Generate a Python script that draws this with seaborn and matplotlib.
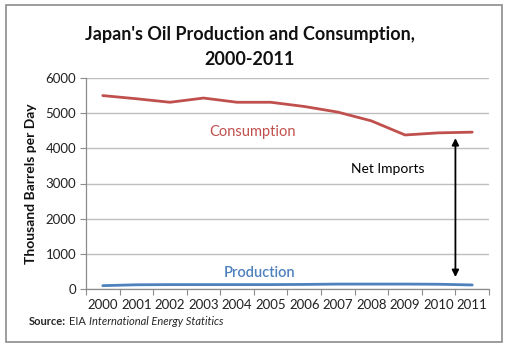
import matplotlib
matplotlib.use("Agg")
import matplotlib.pyplot as plt
import seaborn as sns
import pandas as pd
from matplotlib.patches import Rectangle
from matplotlib.ticker import FixedLocator

years = ["2000", "2001", "2002", "2003", "2004", "2005",
         "2006", "2007", "2008", "2009", "2010", "2011"]
consumption = [5500, 5410, 5310, 5430, 5310, 5310, 5190, 5030, 4780, 4380, 4440, 4460]
production = [95, 120, 125, 125, 125, 125, 130, 140, 140, 140, 135, 115]

title = "Japan's Oil Production and Consumption,\n2000-2011"
ylabel = "Thousand Barrels per Day"
yticks = [0, 1000, 2000, 3000, 4000, 5000, 6000]

RED = "#C0504D"
BLUE = "#4F81BD"
GREY = "#8C8C8C"

sns.set_theme(style="white")
plt.rcParams["font.family"] = ["Lato", "DejaVu Sans"]

df = pd.DataFrame({"year": years, "Consumption": consumption, "Production": production})

fig = plt.figure(figsize=(5.1, 3.5), dpi=100)
ax = fig.add_axes([86 / 510, 1 - 289 / 350, (489 - 86) / 510, (289 - 78) / 350])

sns.lineplot(data=df, x="year", y="Consumption", color=RED, lw=2.0, ax=ax, sort=False)
sns.lineplot(data=df, x="year", y="Production", color=BLUE, lw=2.0, ax=ax, sort=False)

ax.set_xlim(-0.5, len(years) - 0.5)
ax.set_ylim(0, 6000)
ax.set_yticks(yticks)
ax.set_yticklabels([str(v) for v in yticks], fontsize=9.5, color="#222222")
ax.set_xticks(range(len(years)))
ax.set_xticklabels(years, fontsize=9.5, color="#222222")
ax.xaxis.set_minor_locator(FixedLocator([i - 0.5 for i in range(len(years) + 1)]))
ax.tick_params(axis="x", which="major", length=0, pad=7)
ax.tick_params(axis="x", which="minor", length=4, color=GREY, width=0.8, direction="out", bottom=True)
ax.tick_params(axis="y", which="major", length=4, color=GREY, width=0.8, direction="out", left=True, pad=3)

ax.grid(axis="y", color="#BEBEBE", lw=1.0)
ax.set_axisbelow(True)
for s in ["top", "right"]:
    ax.spines[s].set_visible(False)
for s in ["left", "bottom"]:
    ax.spines[s].set_color(GREY)
    ax.spines[s].set_linewidth(0.9)

ax.set_xlabel("")
ax.set_ylabel(ylabel, fontsize=10, fontweight="bold", color="#111111", labelpad=6)

ax.text(4.46, 4460, "Consumption", color=RED, fontsize=10.5, ha="center", va="center")
ax.text(4.67, 460, "Production", color=BLUE, fontsize=10.5, ha="center", va="center", fontweight="semibold")
ax.text(8.5, 3400, "Net Imports", color="black", fontsize=10, ha="center", va="center")
ax.annotate("", xy=(10.5, 4290), xytext=(10.5, 340),
            arrowprops=dict(arrowstyle="<|-|>", color="black", lw=1.3,
                            mutation_scale=10, shrinkA=0, shrinkB=0))

fig.text(0.49, 1 - 47 / 350, title, ha="center", va="center", fontsize=13,
         fontweight="bold", color="#111111", linespacing=1.6)

t1 = fig.text(29 / 510, 1 - 325 / 350, "Source:", fontsize=8, fontweight="bold",
              ha="left", va="baseline")
t2 = fig.text(0, 0, "EIA", fontsize=8, ha="left", va="baseline")
t3 = fig.text(0, 0, "International Energy Statitics", fontsize=8, style="italic",
              ha="left", va="baseline")
fig.canvas.draw()
r = fig.canvas.get_renderer()
inv = fig.transFigure.inverted()
bb1 = t1.get_window_extent(r)
x2 = inv.transform((bb1.x1 + 3, 0))[0]
t2.set_position((x2, 1 - 325 / 350))
bb2 = t2.get_window_extent(r)
x3 = inv.transform((bb2.x1 + 3, 0))[0]
t3.set_position((x3, 1 - 325 / 350))

fig.patches.append(Rectangle((6 / 510, 1 - 342 / 350), 496 / 510, 337 / 350,
                             transform=fig.transFigure, fill=False, edgecolor=GREY, lw=1.2))

fig.savefig("out.png", dpi=100)
